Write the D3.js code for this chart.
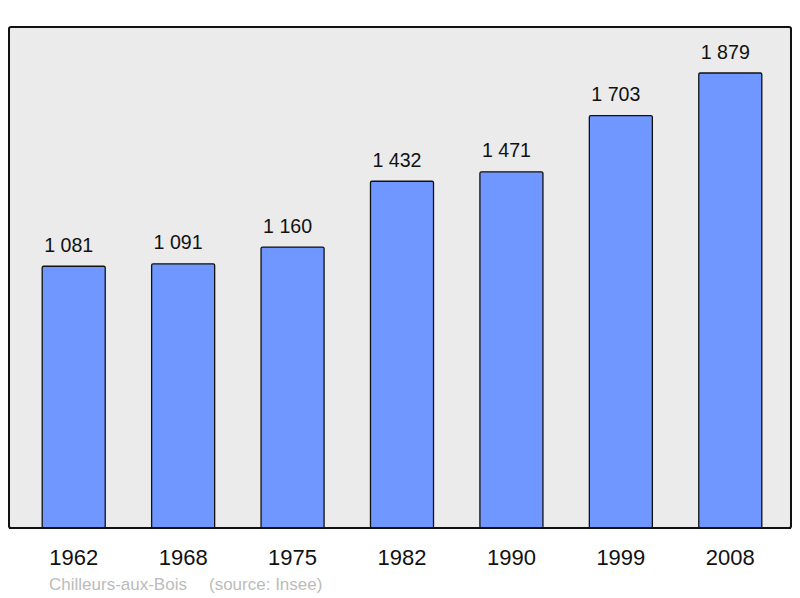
<!DOCTYPE html>
<html><head><meta charset="utf-8">
<script src="https://cdn.jsdelivr.net/npm/d3@7"></script>
<style>body{margin:0;background:#fff}svg{display:block}text{font-family:"Liberation Sans",Arial,sans-serif}</style>
</head><body>
<svg id="c" width="800" height="598"></svg>
<script>
const years = ["1962","1968","1975","1982","1990","1999","2008"];
const population = [1081,1091,1160,1432,1471,1703,1879];
const valueLabels = ["1 081","1 091","1 160","1 432","1 471","1 703","1 879"];
const sourceTexts = ["Chilleurs-aux-Bois", "(source: Insee)"];

const svg = d3.select("#c");
const frame = {x0: 9, y0: 27, x1: 791, y1: 528};

svg.append("rect").attr("x", frame.x0).attr("y", frame.y0)
  .attr("width", frame.x1 - frame.x0).attr("height", frame.y1 - frame.y0)
  .attr("rx", 2).attr("fill", "#ebebeb").attr("stroke", "#111").attr("stroke-width", 2);

const x = d3.scaleBand().domain(years).range([19, 785]).paddingInner(0.424).paddingOuter(0.212);
const y = d3.scaleLinear().domain([0, d3.max(population)]).range([frame.y1, 73]);

const data = years.map((yr, i) => ({yr, v: population[i], lab: valueLabels[i]}));

svg.selectAll("rect.bar").data(data).join("rect").attr("class","bar")
  .attr("x", d => x(d.yr)).attr("y", d => y(d.v))
  .attr("width", x.bandwidth()).attr("height", d => frame.y1 - y(d.v))
  .attr("rx", 1.5)
  .attr("fill", "#7097ff").attr("stroke", "#111").attr("stroke-width", 1.3);

svg.append("line").attr("x1", frame.x0).attr("x2", frame.x1)
  .attr("y1", frame.y1).attr("y2", frame.y1).attr("stroke", "#111").attr("stroke-width", 2);

svg.selectAll("text.val").data(data).join("text").attr("class","val")
  .attr("x", d => x(d.yr) + x.bandwidth()/2 - 5).attr("y", d => y(d.v) - 14.5)
  .attr("text-anchor","middle").attr("font-size", 19.6).attr("fill","#111")
  .text(d => d.lab);

const xAxis = d3.axisBottom(x).tickSize(0).tickPadding(0);
const ax = svg.append("g").attr("transform", `translate(0,${frame.y1})`).call(xAxis);
ax.select(".domain").remove();
ax.selectAll("text").attr("y", 37).attr("dy", 0).attr("font-size", 22)
  .attr("fill","#111").style("font-family", '"Liberation Sans",Arial,sans-serif');

svg.selectAll("text.src").data(sourceTexts).join("text").attr("class","src")
  .attr("x", (d, i) => i === 0 ? 49 : 209).attr("y", 590).attr("font-size", 17)
  .attr("fill","#bbbbbb").text(d => d);
</script>
</body></html>
